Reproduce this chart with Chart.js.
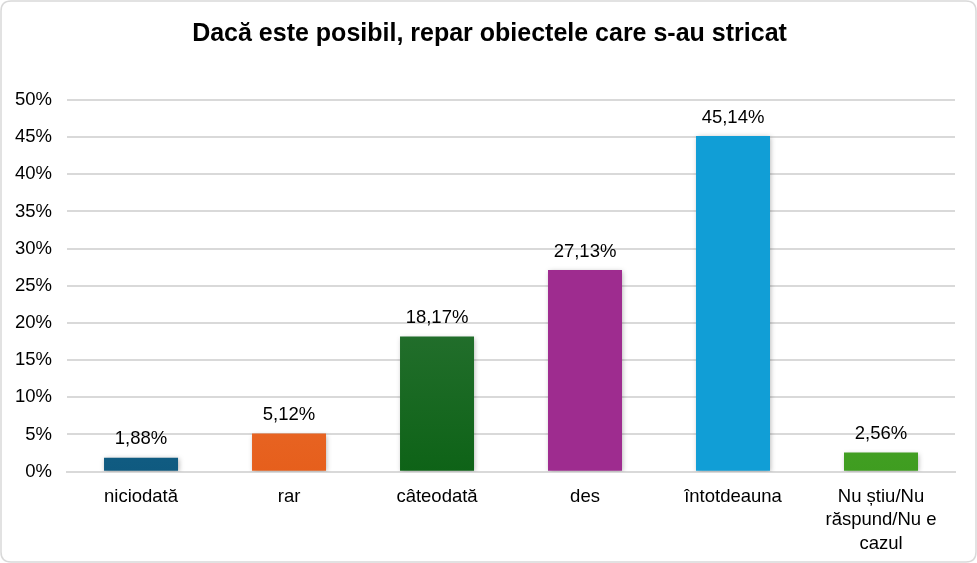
<!DOCTYPE html>
<html>
<head>
<meta charset="utf-8">
<script src="https://cdn.jsdelivr.net/npm/chart.js@4.4.0/dist/chart.umd.min.js"></script>
<style>
html,body{margin:0;padding:0;background:#fff;}
#wrap{position:relative;width:977px;height:563px;}
</style>
</head>
<body>
<div id="wrap"><canvas id="c" width="977" height="563"></canvas></div>
<script>
const categories = ["niciodată", "rar", "câteodată", "des", "întotdeauna", ["Nu știu/Nu", "răspund/Nu e", "cazul"]];
const values = [1.88, 5.12, 18.17, 27.13, 45.14, 2.56];
const valueLabels = ["1,88%", "5,12%", "18,17%", "27,13%", "45,14%", "2,56%"];
const colorsTop = ["#2a7ba3", "#f0844f", "#43804d", "#9e2c8f", "#119ed6", "#63b545"];
const colorsBottom = ["#0f5a80", "#e65f1c", "#0e6317", "#9e2c8f", "#119ed6", "#3f9d20"];
const yTicks = [0, 5, 10, 15, 20, 25, 30, 35, 40, 45, 50];
const titleText = "Dacă este posibil, repar obiectele care s-au stricat";

const FONT = "'Liberation Sans', Arial, sans-serif";

const borderPlugin = {
  id: 'borderPlugin',
  beforeDraw(chart) {
    const ctx = chart.ctx;
    ctx.save();
    ctx.fillStyle = '#fff';
    ctx.fillRect(0, 0, chart.width, chart.height);
    ctx.strokeStyle = '#d9d9d9';
    ctx.lineWidth = 1.5;
    const r = 10;
    const x = 1, y = 1, w = chart.width - 2, h = chart.height - 2;
    ctx.beginPath();
    ctx.moveTo(x + r, y);
    ctx.lineTo(x + w - r, y);
    ctx.quadraticCurveTo(x + w, y, x + w, y + r);
    ctx.lineTo(x + w, y + h - r);
    ctx.quadraticCurveTo(x + w, y + h, x + w - r, y + h);
    ctx.lineTo(x + r, y + h);
    ctx.quadraticCurveTo(x, y + h, x, y + h - r);
    ctx.lineTo(x, y + r);
    ctx.quadraticCurveTo(x, y, x + r, y);
    ctx.stroke();
    // title centred on the whole chart box
    ctx.fillStyle = '#000';
    ctx.font = "bold 25px " + FONT;
    ctx.textAlign = 'center';
    ctx.textBaseline = 'middle';
    ctx.fillText(titleText, chart.width / 2 + 1, 34);
    ctx.restore();
  }
};

const labelPlugin = {
  id: 'labelPlugin',
  afterDatasetsDraw(chart) {
    const ctx = chart.ctx;
    const meta = chart.getDatasetMeta(0);
    ctx.save();
    ctx.fillStyle = '#000';
    ctx.font = "18.5px " + FONT;
    ctx.textAlign = 'center';
    ctx.textBaseline = 'bottom';
    meta.data.forEach((bar, i) => {
      ctx.fillText(valueLabels[i], bar.x, bar.y - 9);
    });
    ctx.restore();
  }
};

const shadowPlugin = {
  id: 'shadowPlugin',
  beforeDatasetsDraw(chart) {
    chart.ctx.save();
    chart.ctx.shadowColor = 'rgba(0,0,0,0.3)';
    chart.ctx.shadowBlur = 5;
    chart.ctx.shadowOffsetX = 1;
    chart.ctx.shadowOffsetY = 1;
  },
  afterDatasetsDraw(chart) {
    chart.ctx.restore();
  }
};

function gradientFor(ctx) {
  const chart = ctx.chart;
  const i = ctx.dataIndex;
  const area = chart.chartArea;
  if (!area) return colorsBottom[i];
  const meta = chart.getDatasetMeta(0);
  const bar = meta.data[i];
  const top = bar && isFinite(bar.y) ? bar.y : area.top;
  const bottom = area.bottom;
  const g = chart.ctx.createLinearGradient(0, top, 0, bottom);
  g.addColorStop(0, colorsTop[i]);
  g.addColorStop(1, colorsBottom[i]);
  return g;
}

new Chart(document.getElementById('c'), {
  type: 'bar',
  data: {
    labels: categories,
    datasets: [{
      data: values,
      backgroundColor: gradientFor,
      borderWidth: 0,
      categoryPercentage: 1.0,
      barPercentage: 0.5
    }]
  },
  options: {
    responsive: false,
    animation: false,
    devicePixelRatio: 1,
    layout: { padding: { left: 0, right: 22, top: 100, bottom: 2 } },
    plugins: {
      legend: { display: false },
      tooltip: { enabled: false },
      title: { display: false }
    },
    scales: {
      x: {
        grid: { display: false },
        border: { display: true, color: '#d9d9d9', width: 2 },
        ticks: {
          color: '#000',
          font: { family: FONT, size: 18.5, lineHeight: 1.25 },
          maxRotation: 0,
          autoSkip: false,
          padding: 6
        }
      },
      y: {
        min: 0,
        max: 50,
        afterBuildTicks(axis) {
          axis.ticks = yTicks.map(v => ({ value: v }));
        },
        grid: { color: '#d9d9d9', lineWidth: 2, drawTicks: false },
        border: { display: false },
        ticks: {
          color: '#000',
          font: { family: FONT, size: 18.5 },
          padding: 15,
          callback: v => v + '%'
        }
      }
    }
  },
  plugins: [borderPlugin, shadowPlugin, labelPlugin]
});
</script>
</body>
</html>
